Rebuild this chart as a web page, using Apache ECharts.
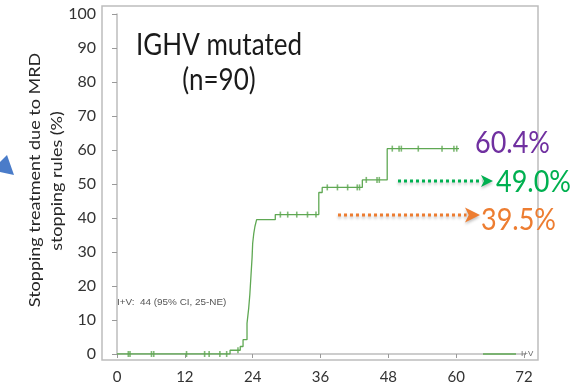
<!DOCTYPE html>
<html>
<head>
<meta charset="utf-8">
<script src="https://cdn.jsdelivr.net/npm/echarts@6/dist/echarts.min.js"></script>
<style>
  html, body { margin: 0; padding: 0; background: #fff; }
  #chart { width: 574px; height: 387px; }
</style>
</head>
<body>
<div id="chart"></div>
<script>
// Cumulative incidence of stopping treatment (Kaplan–Meier step curve), I+V arm
var kmMonths = [0, 20.0, 21.8, 22.3, 23.0, 23.3, 23.5, 23.7, 23.9, 24.0, 24.2, 24.4, 24.7, 28.0, 35.7, 36.3, 43.4, 47.8, 60.5];
var kmPercent = [0, 1.1, 2.2, 4.2, 9.0, 13.5, 17.5, 23.0, 28.5, 32.5, 35.5, 37.5, 39.5, 41.0, 47.5, 49.0, 51.2, 60.4, 60.4];

// Censored observations (months)
var censorMonths = [2.0, 2.3, 6.1, 6.5, 12.3, 15.5, 16.3, 18.2, 19.4, 21.4, 28.9, 30.2, 31.8, 33.7, 35.2,
                    37.2, 39.0, 40.8, 42.5, 42.9, 44.1, 46.0, 46.4, 48.7, 49.9, 50.3, 53.3, 57.5, 59.6, 60.1];

var xTicks = [0, 12, 24, 36, 48, 60, 72];
var yTicks = [0, 10, 20, 30, 40, 50, 60, 70, 80, 90, 100];

var seriesName = 'I+V';
var medianNote = 'I+V:  44 (95% CI, 25-NE)';
var titleLines = ['IGHV mutated', '(n=90)'];
var yAxisLines = ['Stopping treatment due to MRD', 'stopping rules (%)'];
var rateLabels = ['60.4%', '49.0%', '39.5%'];

// level of the step curve at a given time
function kmLevel(t) {
  var v = kmPercent[0];
  for (var i = 0; i < kmMonths.length; i++) {
    if (kmMonths[i] <= t) v = kmPercent[i];
  }
  return v;
}

var curve = kmMonths.map(function (t, i) { return [t, kmPercent[i]]; });
var censors = censorMonths.map(function (t) { return [t, kmLevel(t)]; });

var FONT = 'Lato, "Open Sans", sans-serif';
var GREEN_CURVE = '#5fa853';
var AXIS_GREY = '#bdbdbd';

var chart = echarts.init(document.getElementById('chart'), null, { renderer: 'canvas' });

function arrow(x1, x2, y, color, head, lw) {
  return [
    {
      type: 'line',
      shape: { x1: x1, y1: y, x2: x2 - head * 0.9, y2: y },
      style: {
        stroke: color, lineWidth: lw, lineDash: [3, 3],
        shadowColor: 'rgba(0,0,0,0.25)', shadowBlur: 3, shadowOffsetY: 2
      },
      z: 20
    },
    {
      type: 'polygon',
      shape: { points: [[x2 - head, y - head * 0.5], [x2, y], [x2 - head, y + head * 0.5], [x2 - head * 0.75, y]] },
      style: { fill: color, shadowColor: 'rgba(0,0,0,0.25)', shadowBlur: 3, shadowOffsetY: 2 },
      z: 20
    }
  ];
}

function bigText(txt, x, y, color, size, align) {
  return {
    type: 'text', x: x, y: y, scaleY: 1.15,
    style: { text: txt, font: size + 'px ' + FONT, fill: color, textAlign: align || 'left', textVerticalAlign: 'middle' },
    z: 30
  };
}

var graphics = [
  // plot frame (top and right edges)
  { type: 'rect', shape: { x: 102, y: 6, width: 436, height: 354 }, style: { fill: 'none', stroke: AXIS_GREY, lineWidth: 1.5 }, z: 1 },
  // titles
  bigText(titleLines[0], 219, 45, '#1a1a1a', 26, 'center'),
  bigText(titleLines[1], 219, 80, '#1a1a1a', 26, 'center'),
  // rotated y-axis title
  { type: 'text', x: 35, y: 180, rotation: Math.PI / 2, scaleX: 1.2,
    style: { text: yAxisLines[0], font: '15px ' + FONT, fill: '#262626', textAlign: 'center', textVerticalAlign: 'middle' } },
  { type: 'text', x: 57, y: 181, rotation: Math.PI / 2, scaleX: 1.2,
    style: { text: yAxisLines[1], font: '15px ' + FONT, fill: '#262626', textAlign: 'center', textVerticalAlign: 'middle' } },
  // median note
  { type: 'text', x: 117, y: 303, scaleX: 1.1,
    style: { text: medianNote, font: '9px "Liberation Sans", Arial, sans-serif', fill: '#555', textAlign: 'left', textVerticalAlign: 'middle' } },
  // rate labels
  bigText(rateLabels[0], 475, 143, '#7030a0', 27),
  bigText(rateLabels[1], 496, 182, '#00b050', 27),
  bigText(rateLabels[2], 481, 220, '#ed7d31', 27),
  // blue pointer at the left edge
  { type: 'polygon', shape: { points: [[0, 162], [7, 155], [14, 175], [0, 172]] }, style: { fill: '#4a7cc9' } }
].concat(arrow(398, 493, 181, '#00b050', 12, 3)).concat(arrow(338, 480, 215, '#ed7d31', 15, 3));

chart.setOption({
  animation: false,
  backgroundColor: '#fff',
  grid: { left: 117, right: 50, top: 14, bottom: 33, containLabel: false },
  xAxis: {
    type: 'value', min: xTicks[0], max: xTicks[xTicks.length - 1], interval: 12,
    offset: 6,
    axisLine: { show: true, lineStyle: { color: AXIS_GREY, width: 1.5 } },
    axisTick: { show: true, length: 4, lineStyle: { color: '#999' } },
    axisLabel: { fontFamily: FONT, fontSize: 15, color: '#333', margin: 10 },
    splitLine: { show: false }
  },
  yAxis: {
    type: 'value', min: yTicks[0], max: yTicks[yTicks.length - 1], interval: 10,
    offset: 15,
    axisLine: { show: true, lineStyle: { color: AXIS_GREY, width: 1.5 } },
    axisTick: { show: true, length: 5, lineStyle: { color: '#999' } },
    axisLabel: { fontFamily: FONT, fontSize: 16, color: '#333', margin: 6 },
    splitLine: { show: false }
  },
  legend: {
    data: [{ name: seriesName, icon: 'rect' }],
    left: 478, top: 345, itemWidth: 33, itemHeight: 1.5, itemGap: 4,
    textStyle: { fontSize: 8, color: '#666', fontFamily: '"Liberation Sans", Arial, sans-serif' }
  },
  series: [
    {
      name: seriesName, type: 'line', step: 'end', data: curve,
      showSymbol: false, symbol: 'none',
      lineStyle: { color: GREEN_CURVE, width: 1.3 },
      itemStyle: { color: GREEN_CURVE },
      z: 5
    },
    {
      name: 'censored', type: 'scatter', data: censors,
      symbol: 'rect', symbolSize: [1.6, 6],
      itemStyle: { color: GREEN_CURVE },
      z: 6
    }
  ],
  graphic: graphics
});
</script>
</body>
</html>
